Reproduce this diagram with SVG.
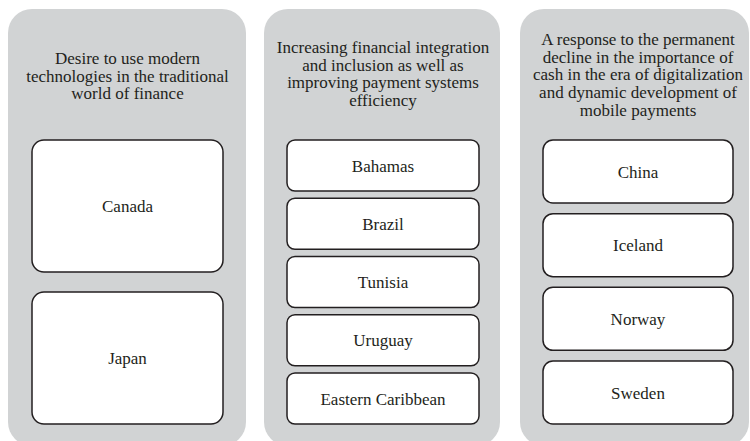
<svg xmlns="http://www.w3.org/2000/svg" width="750" height="441" viewBox="0 0 750 441">
<style>
.panel{fill:#d1d3d4;stroke:none}
.box{fill:#ffffff;stroke:#231f20;stroke-width:1.5}
text{font-family:"Liberation Serif","Times New Roman",serif;font-size:17px;fill:#231f20;text-anchor:middle}
</style>
<rect width="750" height="441" fill="#ffffff"/>
<g id="panel1">
<rect class="panel" x="8" y="9" width="238" height="437" rx="24"/>
<text x="127.5" y="64">Desire to use modern</text>
<text x="127.5" y="81.7">technologies in the traditional</text>
<text x="127.5" y="99.4">world of finance</text>
</g>
<g id="panel2">
<rect class="panel" x="264" y="9" width="236" height="437" rx="24"/>
<text x="383" y="53">Increasing financial integration</text>
<text x="383" y="70.7">and inclusion as well as</text>
<text x="383" y="88.4">improving payment systems</text>
<text x="383" y="106">efficiency</text>
</g>
<g id="panel3">
<rect class="panel" x="520" y="9" width="229" height="437" rx="24"/>
<text x="638" y="45">A response to the permanent</text>
<text x="638" y="62.7">decline in the importance of</text>
<text x="638" y="80.4">cash in the era of digitalization</text>
<text x="638" y="98.1">and dynamic development of</text>
<text x="638" y="115.8">mobile payments</text>
</g>
<g id="canada"><rect class="box" x="32" y="140" width="191" height="132" rx="12"/><text x="127.5" y="212">Canada</text></g>
<g id="japan"><rect class="box" x="32" y="292" width="191" height="132" rx="12"/><text x="127.5" y="364">Japan</text></g>
<g id="bahamas"><rect class="box" x="287" y="140" width="192" height="51" rx="8"/><text x="383" y="171.5">Bahamas</text></g>
<g id="brazil"><rect class="box" x="287" y="198.25" width="192" height="51" rx="8"/><text x="383" y="229.75">Brazil</text></g>
<g id="tunisia"><rect class="box" x="287" y="256.5" width="192" height="51" rx="8"/><text x="383" y="288">Tunisia</text></g>
<g id="uruguay"><rect class="box" x="287" y="314.75" width="192" height="51" rx="8"/><text x="383" y="346.25">Uruguay</text></g>
<g id="eastern-caribbean"><rect class="box" x="287" y="373" width="192" height="51" rx="8"/><text x="383" y="404.5">Eastern Caribbean</text></g>
<g id="china"><rect class="box" x="543" y="140" width="190" height="63" rx="10"/><text x="638" y="177.5">China</text></g>
<g id="iceland"><rect class="box" x="543" y="213.7" width="190" height="63" rx="10"/><text x="638" y="251.2">Iceland</text></g>
<g id="norway"><rect class="box" x="543" y="287.3" width="190" height="63" rx="10"/><text x="638" y="324.8">Norway</text></g>
<g id="sweden"><rect class="box" x="543" y="361" width="190" height="63" rx="10"/><text x="638" y="398.5">Sweden</text></g>
<g id="connectors"/>
</svg>
